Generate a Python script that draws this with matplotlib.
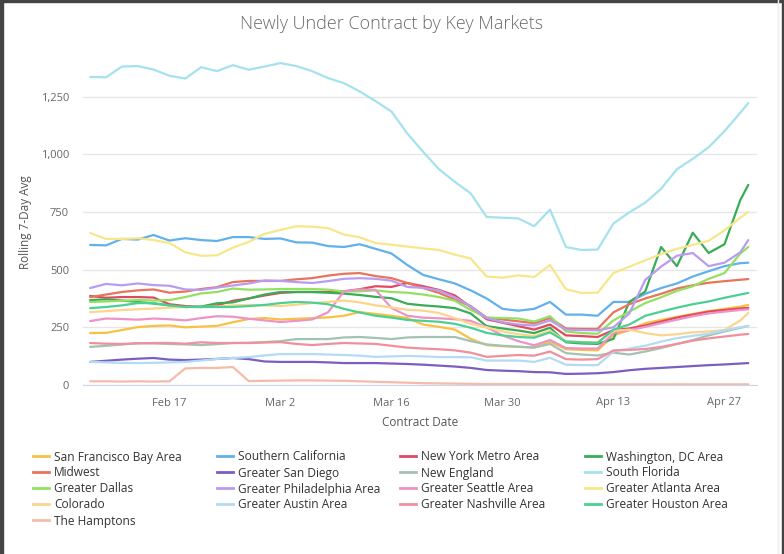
import matplotlib
matplotlib.use("Agg")
import matplotlib.pyplot as plt
import matplotlib.dates as mdates
from matplotlib.lines import Line2D
from matplotlib.patches import Rectangle
from matplotlib.ticker import FuncFormatter
import pandas as pd

plt.rcParams['font.family'] = ['Open Sans', 'DejaVu Sans']

W, H = 784, 554

# sampled every second day, Feb 7 .. Apr 29, plus Apr 30
dates = list(pd.date_range('2020-02-07', '2020-04-29', freq='2D')) + [pd.Timestamp('2020-04-30')]

san_francisco = [225, 226, 238, 251, 256, 258, 250, 253, 256, 272, 286, 290, 284, 287, 290,
                 293, 300, 316, 308, 300, 290, 262, 252, 240, 200, 173, 168, 165, 163, 188,
                 155, 152, 150, 215, 238, 268, 282, 295, 308, 320, 330, 340, 347]
southern_california = [607, 605, 633, 630, 650, 626, 636, 628, 624, 641, 641, 633, 635, 618, 617,
                       602, 598, 610, 590, 570, 520, 477, 458, 440, 410, 375, 330, 322, 330, 360,
                       305, 305, 300, 360, 360, 395, 420, 440, 470, 493, 515, 528, 530]
new_york = [386, 378, 381, 381, 379, 350, 342, 338, 345, 365, 375, 388, 399, 403, 403,
            403, 406, 415, 428, 425, 442, 428, 412, 388, 338, 285, 270, 255, 240, 262,
            215, 212, 208, 238, 245, 258, 275, 292, 305, 318, 325, 332, 334]
washington = [368, 371, 366, 360, 353, 345, 338, 340, 354, 358, 375, 392, 403, 403, 403,
              400, 396, 390, 382, 376, 352, 345, 340, 333, 310, 255, 245, 236, 225, 248,
              185, 180, 178, 200, 360, 405, 598, 515, 660, 572, 610, 802, 867]
midwest = [381, 392, 403, 410, 414, 400, 405, 416, 424, 446, 451, 451, 451, 458, 463,
           474, 482, 485, 472, 463, 442, 420, 399, 370, 342, 292, 284, 276, 268, 290,
           245, 243, 243, 315, 350, 375, 395, 418, 432, 443, 450, 456, 459]
san_diego = [100, 105, 110, 114, 117, 110, 108, 110, 113, 117, 112, 102, 100, 100, 100,
             98, 95, 95, 95, 93, 91, 88, 84, 80, 74, 65, 62, 60, 56, 55,
             48, 49, 51, 56, 64, 70, 74, 78, 82, 86, 89, 93, 95]
new_england = [165, 170, 175, 182, 180, 178, 176, 173, 177, 182, 183, 186, 190, 199, 199,
               199, 206, 208, 204, 199, 206, 208, 208, 208, 190, 176, 170, 166, 162, 178,
               138, 132, 128, 140, 132, 145, 160, 178, 195, 215, 232, 248, 256]
south_florida = [1335, 1333, 1380, 1382, 1367, 1340, 1328, 1377, 1360, 1386, 1366, 1380, 1395, 1382, 1360,
                 1330, 1308, 1272, 1230, 1185, 1090, 1010, 935, 880, 830, 728, 725, 722, 688, 760,
                 598, 585, 587, 700, 748, 790, 850, 935, 980, 1030, 1100, 1180, 1222]
dallas = [360, 362, 365, 368, 366, 368, 381, 397, 403, 418, 413, 414, 416, 416, 416,
          413, 405, 406, 410, 403, 400, 392, 381, 365, 325, 292, 290, 288, 275, 298,
          232, 225, 222, 280, 318, 355, 380, 408, 428, 460, 485, 570, 598]
philadelphia = [420, 438, 432, 440, 433, 430, 414, 412, 422, 431, 440, 453, 451, 446, 442,
                450, 460, 463, 460, 452, 425, 421, 410, 380, 340, 290, 272, 262, 258, 280,
                240, 238, 237, 250, 310, 455, 513, 560, 572, 515, 530, 575, 628]
seattle = [277, 288, 286, 283, 288, 285, 280, 290, 298, 296, 287, 280, 273, 278, 284,
           315, 405, 414, 412, 334, 300, 292, 289, 285, 278, 250, 215, 190, 172, 195,
           160, 158, 158, 225, 238, 252, 268, 283, 298, 310, 318, 325, 328]
atlanta = [659, 633, 633, 636, 628, 615, 575, 560, 562, 595, 620, 655, 672, 688, 686,
           680, 652, 640, 615, 608, 600, 592, 585, 565, 548, 470, 465, 475, 468, 520,
           415, 399, 400, 485, 513, 540, 567, 590, 607, 625, 670, 725, 750]
colorado = [316, 320, 325, 328, 331, 335, 338, 338, 340, 345, 347, 345, 342, 348, 355,
            360, 366, 358, 345, 336, 326, 322, 312, 290, 265, 250, 232, 220, 212, 235,
            190, 186, 184, 235, 240, 225, 215, 220, 228, 232, 238, 280, 312]
austin = [100, 98, 96, 95, 96, 98, 100, 106, 113, 117, 121, 128, 134, 134, 134,
          132, 130, 127, 122, 124, 126, 124, 121, 121, 120, 106, 106, 106, 100, 118,
          88, 86, 86, 145, 158, 170, 188, 203, 213, 222, 237, 250, 256]
nashville = [182, 179, 178, 180, 182, 182, 179, 185, 182, 182, 182, 184, 186, 178, 173,
             178, 182, 180, 178, 170, 162, 158, 155, 150, 140, 122, 126, 130, 127, 145,
             112, 110, 112, 150, 152, 156, 165, 178, 192, 202, 210, 218, 221]
houston = [333, 338, 345, 355, 355, 345, 338, 338, 338, 338, 342, 347, 355, 360, 357,
           350, 330, 314, 300, 292, 282, 278, 274, 265, 248, 226, 215, 208, 205, 228,
           188, 185, 183, 240, 262, 300, 318, 335, 350, 362, 378, 392, 399]
hamptons = [16, 16, 15, 16, 15, 16, 72, 74, 74, 78, 17, 18, 19, 20, 20,
            19, 18, 16, 14, 12, 10, 8, 7, 6, 5, 4, 4, 4, 4, 4,
            3, 3, 3, 3, 3, 3, 3, 3, 3, 3, 3, 3, 3]

series = [
    ('San Francisco Bay Area', san_francisco, '#f6c244'),
    ('Southern California', southern_california, '#62b1ea'),
    ('New York Metro Area', new_york, '#e2485e'),
    ('Washington, DC Area', washington, '#3aab57'),
    ('Midwest', midwest, '#e9735b'),
    ('Greater San Diego', san_diego, '#7b5ec2'),
    ('New England', new_england, '#a3c2b4'),
    ('South Florida', south_florida, '#a4e2ee'),
    ('Greater Dallas', dallas, '#93e062'),
    ('Greater Philadelphia Area', philadelphia, '#b99cf0'),
    ('Greater Seattle Area', seattle, '#ec93c8'),
    ('Greater Atlanta Area', atlanta, '#f8e68a'),
    ('Colorado', colorado, '#fcd58c'),
    ('Greater Austin Area', austin, '#b3dbf3'),
    ('Greater Nashville Area', nashville, '#f0909c'),
    ('Greater Houston Area', houston, '#4ccf94'),
    ('The Hamptons', hamptons, '#f6bba8'),
]

tick_dates = ['2020-02-17', '2020-03-02', '2020-03-16', '2020-03-30', '2020-04-13', '2020-04-27']
tick_labels = ['Feb 17', 'Mar 2', 'Mar 16', 'Mar 30', 'Apr 13', 'Apr 27']
y_ticks = [0, 250, 500, 750, 1000, 1250]

fig = plt.figure(figsize=(W / 100, H / 100), dpi=100, facecolor='white')
ax = fig.add_axes([83 / W, 1 - 385 / H, (757 - 83) / W, (385 - 55) / H])

for name, vals, color in series:
    ax.plot(dates, vals, color=color, lw=1.6, solid_joinstyle='round', solid_capstyle='round')

start = mdates.date2num(pd.Timestamp('2020-02-07'))
ax.set_xlim(start - 0.9, start + 84.1)
ax.set_ylim(0, 1430)
ax.set_xticks([pd.Timestamp(d) for d in tick_dates])
ax.set_xticklabels(tick_labels)
ax.set_yticks(y_ticks)
ax.yaxis.set_major_formatter(FuncFormatter(lambda v, p: f'{v:,.0f}'))
ax.yaxis.grid(True, color='#e6e6e6', lw=1)
ax.set_axisbelow(True)
for s in ['top', 'right', 'left']:
    ax.spines[s].set_visible(False)
ax.spines['bottom'].set_color('#ccd6eb')
ax.tick_params(axis='both', length=0, labelsize=8, labelcolor='#666666')
ax.tick_params(axis='y', pad=10)
ax.tick_params(axis='x', pad=9)

fig.text(392 / W, 1 - 24 / H, 'Newly Under Contract by Key Markets', ha='center', va='center',
         fontsize=13, color='#6b6b6b', fontweight='light')
fig.text(420 / W, 1 - 422 / H, 'Contract Date', ha='center', va='center', fontsize=8.5, color='#555555')
fig.text(26 / W, 1 - 222 / H, 'Rolling 7-Day Avg', ha='center', va='center', rotation=90,
         fontsize=8.5, color='#555555')

# legend, row by row in four columns
cols_x = [33, 217, 400, 585]
rows_y = [456, 472, 488, 504, 520]
for i, (name, vals, color) in enumerate(series):
    r, c = divmod(i, 4)
    x0, y0 = cols_x[c], rows_y[r]
    fig.add_artist(Line2D([x0 / W, (x0 + 16) / W], [1 - y0 / H] * 2, color=color, lw=2,
                          transform=fig.transFigure))
    fig.text((x0 + 21) / W, 1 - (y0 + 1) / H, name, ha='left', va='center', fontsize=8.6,
             color='#333333')

# screenshot frame
fig.add_artist(Rectangle((0, 1 - 2 / H), 1, 2 / H, color='#444444', transform=fig.transFigure))
fig.add_artist(Rectangle((0, 0), 3 / W, 1, color='#444444', transform=fig.transFigure))
fig.add_artist(Rectangle((1 - 2 / W, 0), 2 / W, 1, color='#444444', transform=fig.transFigure))
fig.add_artist(Line2D([778 / W] * 2, [0, 1], color='#ececec', lw=1, transform=fig.transFigure))

fig.savefig('out.png', dpi=100, facecolor='white')
